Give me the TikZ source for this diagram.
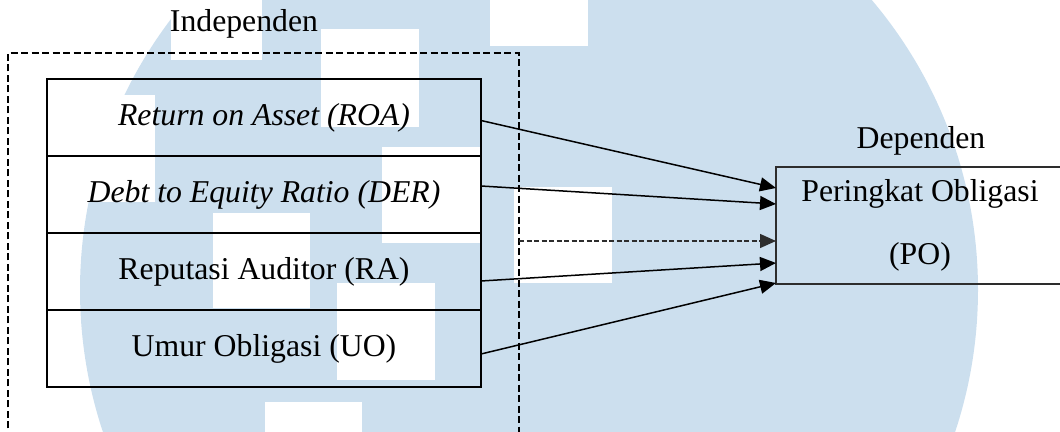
\documentclass[tikz,border=0pt]{standalone}
\usepackage{fontspec}
\setmainfont{Liberation Serif}
\usetikzlibrary{arrows.meta}
\usetikzlibrary{positioning}
\usetikzlibrary{calc}
\definecolor{logoblue}{RGB}{204,223,238}
\definecolor{darkline}{RGB}{45,45,45}
\tikzset{%
    varbox/.style={draw, line width=1.1pt, outer sep=0pt, inner sep=0pt,
        minimum width=173.6pt, minimum height=30.8pt},
    depbox/.style={draw=darkline, line width=0.6pt, outer sep=0pt, align=center,
        minimum width=115.2pt, minimum height=46.8pt,
        font=\fontsize{12.7}{25.2}\selectfont},
    frame/.style={line width=1.05pt, dash pattern=on 2.9pt off 1.3pt},
    link/.style={-{Triangle[length=6.4pt,width=5.6pt]}, line width=0.6pt},
    maybe link/.style={link, draw=darkline, line width=0.55pt, dash pattern=on 2pt off 1pt},
}
\begin{document}
\begin{tikzpicture}[x=0.4pt,y=-0.4pt,font=\fontsize{12.7}{15.2}\selectfont]
\useasboundingbox (0,0) rectangle (1060,432);
\clip (0,0) rectangle (1060,432);
% logo behind the page
\fill [logoblue] (529,290) circle [radius=449];
\foreach \xa/\ya/\xb/\yb in {171/-40/262/60, 490/-50/588/46, 321/29/419/127,
    58/95/155/202, 382/147/480/243, 514/187/612/283, 213/213/310/308,
    337/283/435/380, 265/402/362/500}
  \fill [white] (\xa,\ya) rectangle (\xb,\yb);

\node (roa) [varbox] at (264,117.5) {\textit{Return on Asset (ROA)}};
\node (der) [varbox, below=0pt of roa] {\textit{Debt to Equity Ratio (DER)}};
\node (ra) [varbox, below=0pt of der] {Reputasi Auditor (RA)};
\node (uo) [varbox, below=0pt of ra] {Umur Obligasi (UO)};
\draw [frame] (8,460) -- (8,53) -- (519,53) -- (519,460);
\coordinate (gap) at (519,241);
\node (indep) at (244,24) {Independen};

\node (po) [depbox] at (920,225.5) {Peringkat Obligasi\\(PO)};
\node (dep) at (921,141) {Dependen};

\draw [link] ($(roa.east)+(0,3)$) -- ($(po.west)+(0,-37.5)$);
\draw [link] ($(der.east)+(0,-8.5)$) -- ($(po.west)+(0,-21.5)$);
\draw [maybe link] (gap) -- ($(po.west)+(0,15.5)$);
\draw [link] ($(ra.east)+(0,9.5)$) -- ($(po.west)+(0,37.5)$);
\draw [link] ($(uo.east)+(0,5.5)$) -- ($(po.south west)+(0,-1)$);
\end{tikzpicture}
\end{document}
